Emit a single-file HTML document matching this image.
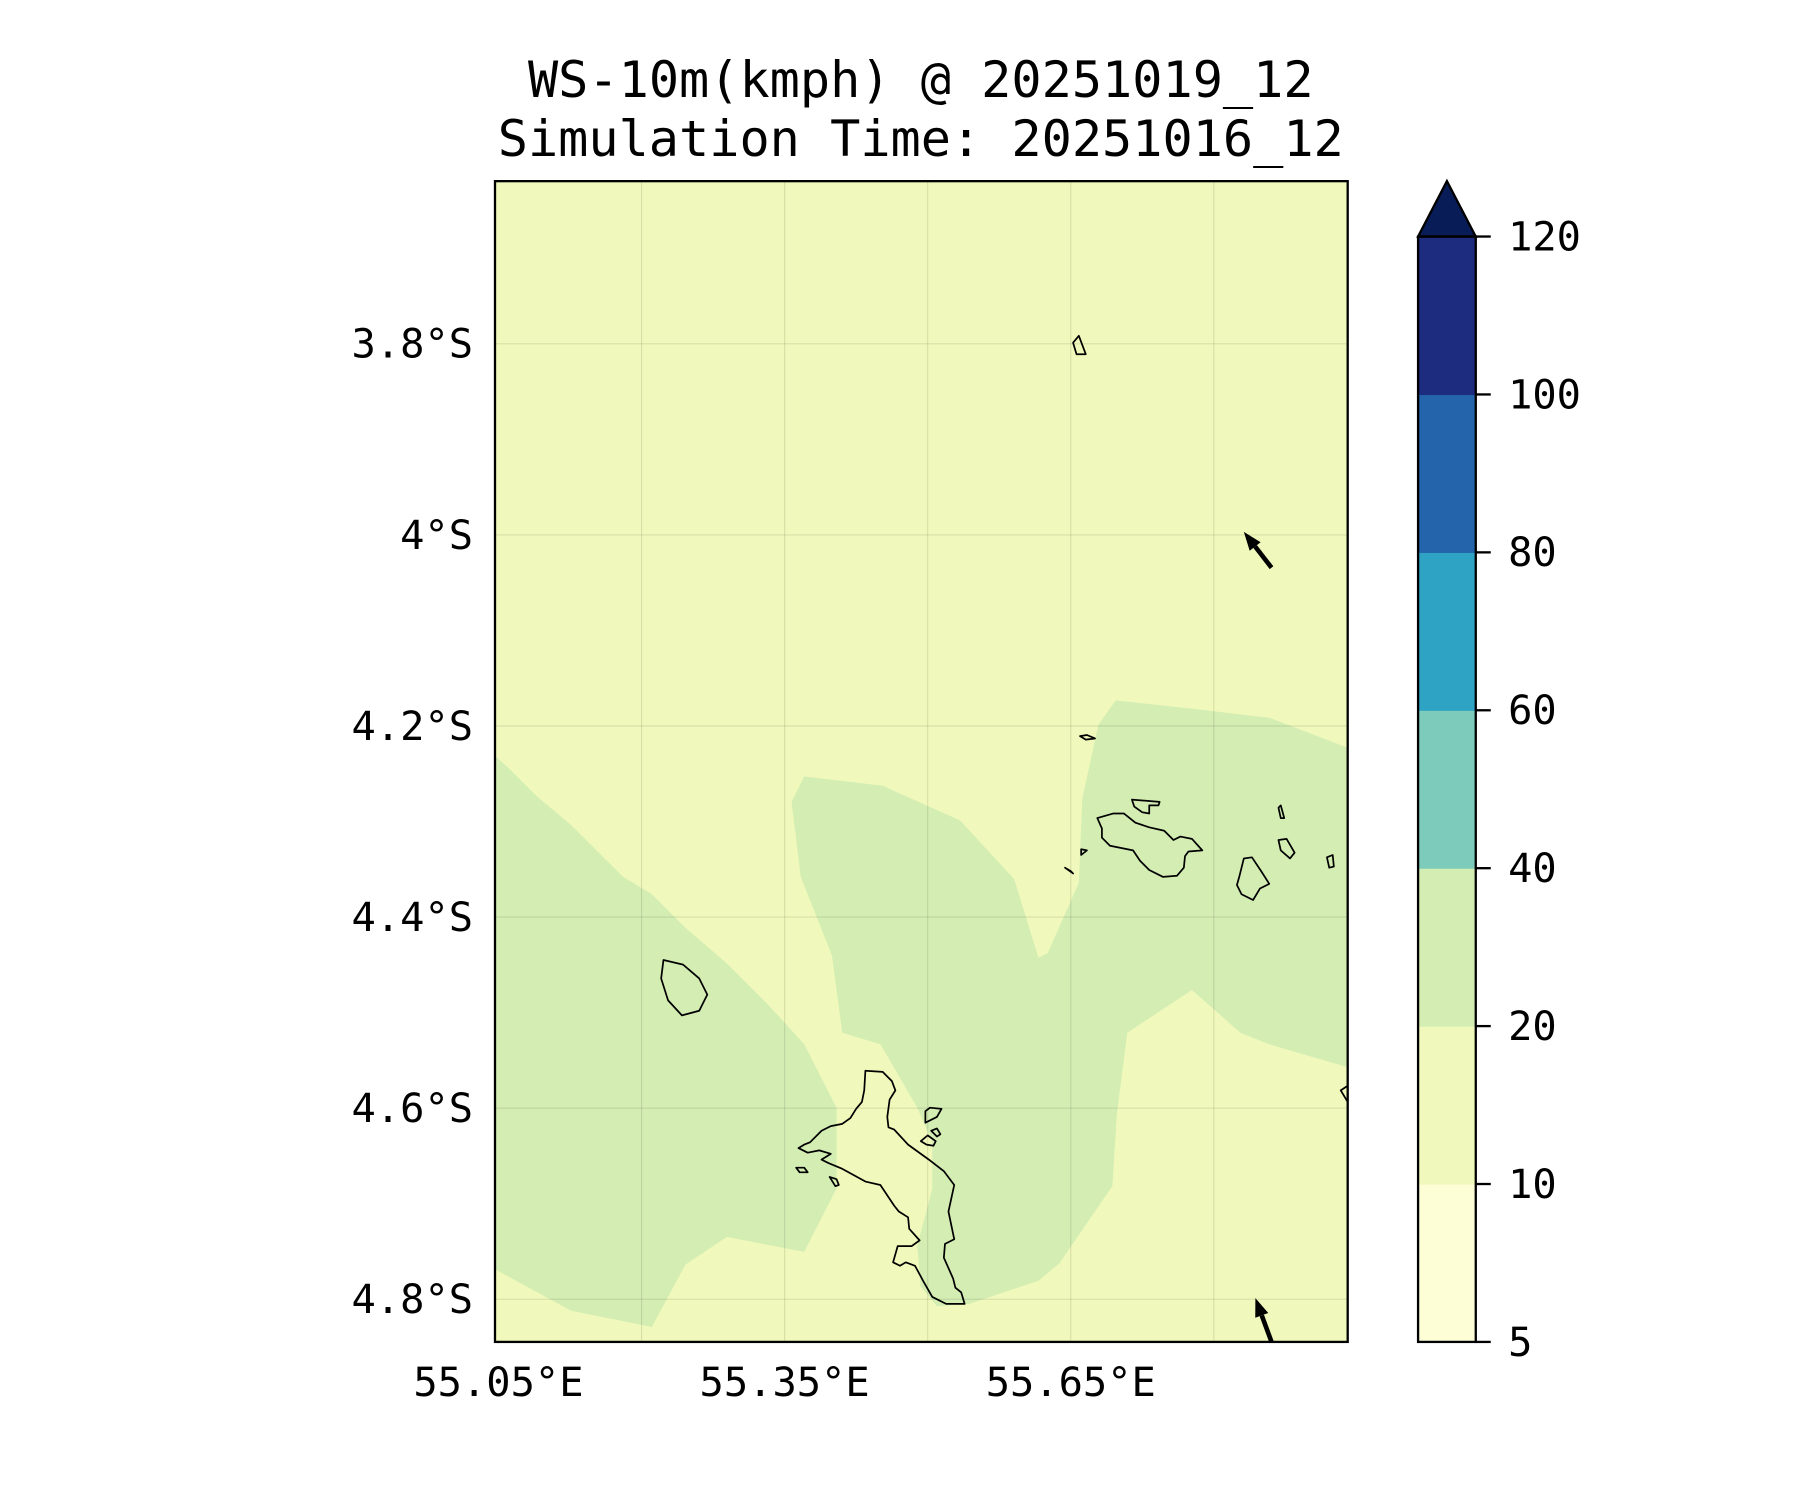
<!DOCTYPE html>
<html><head><meta charset="utf-8"><style>
html,body{margin:0;padding:0;background:#fff;}
svg{display:block;font-family:"DejaVu Sans Mono","Liberation Mono",monospace;}
</style></head><body>
<svg id="chart" width="1800" height="1500" viewBox="0 0 1560 1300" xmlns="http://www.w3.org/2000/svg">
<text x="798" y="84" text-anchor="middle" font-size="43.5">WS-10m(kmph) @ 20251019_12</text>
<text x="798" y="135" text-anchor="middle" font-size="43.5">Simulation Time: 20251016_12</text>
<defs><clipPath id="pc"><rect x="429" y="157" width="739" height="1006"/></clipPath></defs>
<rect x="429" y="157" width="739" height="1006" fill="#f0f9bb"/>
<g id="fill" clip-path="url(#pc)"></g>
<g id="grid" clip-path="url(#pc)"></g>
<g id="isl" clip-path="url(#pc)"></g>
<g id="arrows" clip-path="url(#pc)"></g>
<rect x="429" y="157" width="739" height="1006" fill="none" stroke="#000" stroke-width="2"/>
<g id="ticks"></g>
<g id="cbar"></g>
</svg>
<script>
const latTicks=[3.8,4.0,4.2,4.4,4.6,4.8];
const latLabels=["3.8°S","4°S","4.2°S","4.4°S","4.6°S","4.8°S"];
const lonLabels=["55.05°E","55.35°E","55.65°E"];
const lonLabelPos=[55.05,55.35,55.65];
const lonGrid=[55.2,55.35,55.5,55.65,55.8];
const cbLevels=[5,10,20,40,60,80,100,120];
const cbColors=["#fdfed5","#f0f9bb","#d3edb3","#7ccbbb","#2fa3c3","#2364aa","#1d2c7e"];
const cbExtendColor="#081d58";
const windAreas=[
 [[429,655],[440,665],[465,690],[495,715],[520,740],[540,760],[565,775],[595,805],[630,835],[665,870],[697,905],[725,960],[725,1030],[697,1085],[630,1072],[594,1096],[565,1150],[495,1136],[429,1100]],
 [[686,695],[697,673],[765,681],[832,711],[879,762],[900,830],[908,826],[935,765],[938,692],[952,628],[967,607],[1040,615],[1100,622],[1168,648],[1168,925],[1100,905],[1075,895],[1033,858],[977,895],[968,965],[964,1028],[918,1095],[900,1110],[840,1130],[812,1132],[798,1115],[795,1080],[808,1030],[808,990],[795,960],[763,905],[730,895],[721,828],[694,760]]
];
const islands=[
 [[750,928],[765,929],[773,937],[776,945],[771,953],[769,968],[770,977],[775,979],[787,992],[805,1005],[818,1015],[827,1027],[822,1050],[827,1074],[819,1078],[818,1090],[826,1108],[828,1116],[833,1120],[836,1130],[820,1130],[808,1124],[800,1110],[793,1097],[785,1094],[780,1097],[774,1094],[778,1080],[790,1080],[797,1075],[788,1065],[787,1055],[779,1050],[775,1045],[763,1027],[750,1024],[730,1013],[718,1008],[712,1005],[720,1000],[710,997],[700,999],[692,995],[697,992],[702,990],[712,980],[720,976],[730,974],[737,969],[742,961],[747,955],[749,945]],
 [[951,709],[965,705],[974,705],[984,713],[996,717],[1009,720],[1017,728],[1023,725],[1033,727],[1042,737],[1030,738],[1027,742],[1026,752],[1020,759],[1008,760],[996,754],[988,746],[982,737],[962,733],[955,726],[955,718]],
 [[1074,760],[1078,744],[1085,743],[1093,755],[1100,766],[1092,770],[1086,780],[1076,775],[1072,767]],
 [[575,832],[592,836],[606,848],[613,862],[606,876],[591,880],[579,867],[573,848]],
 [[930,297],[935,291],[941,307],[933,307]],
 [[936,638],[942,637],[949,640],[941,641]],
 [[981,693],[1005,695],[1004,698],[996,698],[996,705],[990,704],[983,699]],
 [[1108,728],[1115,727],[1122,739],[1118,744],[1110,737]],
 [[1108,700],[1110,698],[1113,709],[1110,709]],
 [[1150,743],[1155,741],[1156,751],[1152,752]],
 [[1162,945],[1168,941],[1168,955]],
 [[937,736],[942,737],[937,741]],
 [[923,752],[928,755],[930,757]],
 [[802,963],[806,960],[816,961],[812,968],[802,973]],
 [[798,989],[804,984],[811,989],[809,993],[803,992]],
 [[807,980],[812,978],[815,983],[812,985]],
 [[690,1012],[697,1012],[700,1016],[693,1016]],
 [[719,1020],[725,1022],[727,1027],[724,1028]]
];
const arrowTips=[[1078,461],[1088,1125]];
const arrowTails=[[1102,492],[1102,1163]];
const NS="http://www.w3.org/2000/svg";
function mk(t,a,p){const e=document.createElementNS(NS,t);for(const k in a)e.setAttribute(k,a[k]);p.appendChild(e);return e;}
const yLat=v=>298+(v-3.8)*(1126-298)/1.0;
const xLonLab=v=>432+(v-55.05)*(928-432)/0.6;
const xLonGrid=v=>556+(v-55.2)*(1052-556)/0.6;
const pts=a=>a.map(p=>p.join(',')).join(' ');
const fill=document.getElementById('fill'),grid=document.getElementById('grid'),isl=document.getElementById('isl'),arr=document.getElementById('arrows'),ticks=document.getElementById('ticks'),cb=document.getElementById('cbar');
windAreas.forEach(a=>{const e=mk('polygon',{points:pts(a),fill:'#d3edb3'},fill);

});
latTicks.forEach((v,i)=>{const y=yLat(v);
const l=mk('line',{x1:429,x2:1168,y1:y,y2:y,stroke:'#000','stroke-opacity':0.1,'stroke-width':1},grid);


const t=mk('text',{x:410,y:y+12,'text-anchor':'end','font-size':35},ticks);t.textContent=latLabels[i];

});
lonGrid.forEach(v=>{const x=xLonGrid(v);
const l=mk('line',{x1:x,x2:x,y1:157,y2:1163,stroke:'#000','stroke-opacity':0.1,'stroke-width':1},grid);

});
lonLabelPos.forEach((v,i)=>{const t=mk('text',{x:xLonLab(v),y:1210,'text-anchor':'middle','font-size':35},ticks);t.textContent=lonLabels[i];

});
islands.forEach(a=>{const e=mk('polygon',{points:pts(a),fill:'none',stroke:'#000','stroke-width':1.5,'stroke-linejoin':'round'},isl);

});
arrowTips.forEach((tip,i)=>{const tail=arrowTails[i];const dx=tip[0]-tail[0],dy=tip[1]-tail[1],L=Math.hypot(dx,dy),ux=dx/L,uy=dy/L;
const hx=tip[0]-ux*16,hy=tip[1]-uy*16;
const g=mk('g',{},arr);


mk('line',{x1:tail[0],y1:tail[1],x2:hx,y2:hy,stroke:'#000','stroke-width':4},g);
mk('polygon',{points:`${tip[0]},${tip[1]} ${hx-uy*6},${hy+ux*6} ${hx+uy*6},${hy-ux*6}`,fill:'#000'},g);});
const cbL=1229,cbR=1279,cbTop=205,cbBot=1163,n=cbLevels.length-1,step=(cbBot-cbTop)/n;
for(let i=0;i<n;i++){const r=mk('rect',{x:cbL,y:cbBot-(i+1)*step,width:cbR-cbL,height:step+0.5,fill:cbColors[i]},cb);

}
const ext=mk('polygon',{points:`${cbL},${cbTop} ${(cbL+cbR)/2},157 ${cbR},${cbTop}`,fill:cbExtendColor,stroke:'#000','stroke-width':2},cb);


const fr=mk('rect',{x:cbL,y:cbTop,width:cbR-cbL,height:cbBot-cbTop,fill:'none',stroke:'#000','stroke-width':2},cb);


cbLevels.forEach((v,i)=>{const y=cbBot-i*step;
mk('line',{x1:cbR,x2:cbR+13,y1:y,y2:y,stroke:'#000','stroke-width':2},cb);
const t=mk('text',{x:1307,y:y+12,'font-size':35},cb);t.textContent=v;

});
</script>
</body></html>
